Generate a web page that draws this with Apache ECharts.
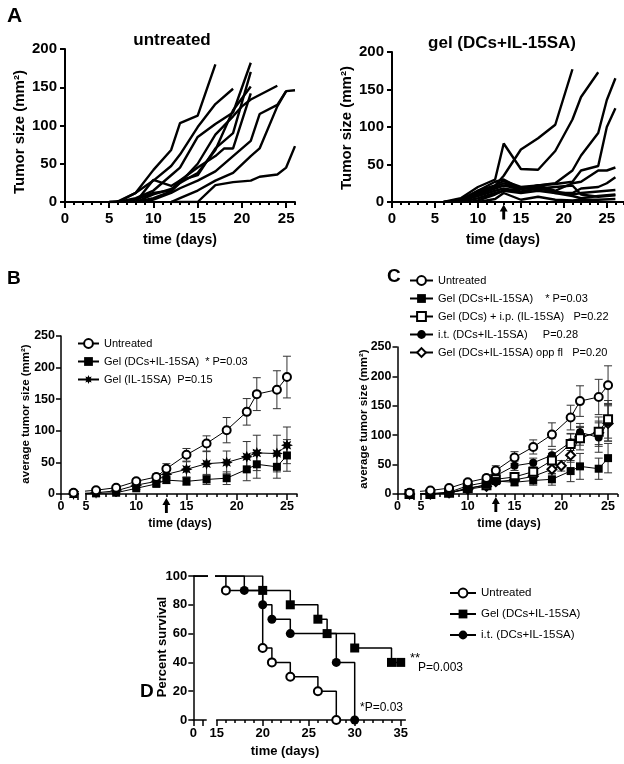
<!DOCTYPE html>
<html><head><meta charset="utf-8">
<script src="https://cdn.jsdelivr.net/npm/echarts@6/dist/echarts.min.js"></script>
<style>html,body{margin:0;padding:0;background:#fff}#c{width:624px;height:764px}</style>
</head><body><div id="c"></div>
<script>
// ---------- DATA ----------
// Panel A: individual tumour curves [day, size]
const untreatedCurves = [
  [[5,0],[6,0],[8,12],[10,42],[12,68],[13,103],[15,113],[17,180]],
  [[5,0],[6,1],[8,12],[10,28],[12,47],[13,62],[15,98],[17,128],[19,148]],
  [[6,0],[8,5],[10,15],[12,35],[13,45],[15,85],[17,102],[19,117],[21,182]],
  [[7,0],[8,3],[10,12],[12,15],[13,28],[15,35],[17,70],[19,90],[21,170]],
  [[8,0],[10,5],[12,14],[13,25],[15,38],[17,68],[19,120],[21,151]],
  [[8,0],[10,29],[12,21],[13,28],[15,45],[17,60],[18,70],[19,70],[21,142]],
  [[9,0],[10,3],[12,12],[13,18],[15,28],[17,40],[19,60],[21,80],[22,115],[24,127],[25,145],[26,146]],
  [[12,0],[13,5],[15,15],[17,28],[19,38],[21,60],[22,70],[24,125],[25,145]],
  [[8,0],[10,10],[12,17],[13,25],[15,50],[17,88],[19,112],[20,125],[21,134],[24,152]],
  [[12,0],[15,0],[17,22],[19,26],[21,28],[22,33],[24,36],[25,45],[26,73]]
];
const gelCurves = [
  [[6,0],[8,2],[10,12],[12,22],[13,35],[15,70],[17,85],[19,103],[21,177]],
  [[6,0],[8,5],[10,20],[12,30],[13,78],[15,44],[17,43],[19,68],[21,110],[22,140],[24,173]],
  [[6,0],[8,3],[10,15],[12,27],[13,30],[15,18],[17,22],[19,25],[21,42],[22,62],[24,92],[25,136],[26,165]],
  [[7,0],[8,2],[10,10],[12,18],[13,22],[15,17],[17,22],[19,24],[21,27],[22,42],[24,48],[25,100],[26,125]],
  [[7,0],[8,3],[10,15],[12,22],[13,28],[15,20],[17,22],[19,15],[21,25],[22,27],[24,42],[25,42],[26,46]],
  [[7,0],[8,2],[10,12],[12,20],[13,25],[15,18],[17,20],[19,12],[21,12],[22,18],[24,20],[25,25],[26,33]],
  [[7,0],[9,5],[10,8],[12,15],[13,18],[15,14],[17,18],[19,14],[21,10],[22,12],[24,14],[26,16]],
  [[8,0],[10,5],[12,12],[13,15],[15,12],[17,15],[19,12],[21,8],[22,5],[24,8],[26,10]],
  [[10,0],[12,4],[13,12],[15,3],[17,7],[19,3],[21,2],[22,3],[24,3],[26,4]],
  [[9,0],[10,2],[12,10],[13,15],[15,18],[17,18],[19,20],[21,22],[22,10],[24,7],[26,9]]
];

// Panels B & C: mean tumour size with SEM
const days = [3,6,8,10,12,13,15,17,19,21,22,24,25];
const untreatedMean = [2,6,10,20,27,40,62,80,101,130,158,165,185];
const untreatedSem  = [1,2,3,4,5,8,10,12,20,21,26,30,33];
const gelDCsILMean  = [0,1,2,9,16,22,20,23,25,39,47,43,61];
const gelDCsILSem   = [0,1,1,2,4,5,6,8,10,18,22,18,25];
const gelILMean     = [0,2,5,14,20,31,39,48,50,59,65,64,77];
const gelILSem      = [0,1,2,3,4,9,12,19,18,24,28,29,29];
const gelDCsIpMean  = [0,0,2,10,15,25,29,38,57,85,95,106,127];
const gelDCsIpSem   = [0,0,1,2,3,5,7,8,12,18,20,25,32];
const itDCsILMean   = [0,0,3,14,20,31,48,53,66,88,105,96,122];
const itDCsILSem    = [0,0,1,2,3,5,8,8,10,14,15,25,32];
const daysOpp       = [3,6,8,10,12,13,15,17,19,20,21,22,24,25];
const oppMean       = [0,0,2,8,13,21,24,30,42,48,66,98,104,120];
const oppSem        = [0,0,1,2,3,4,5,6,8,9,12,15,20,30];
const treatDay = 13;

// Panel D: Kaplan-Meier survival
const survUntreatedT = [0,16,20,21,23,26,28];
const survUntreatedP = [100,90,50,40,30,20,0];
const survGelT = [0,20,23,26,27,30,34,35];
const survGelP = [100,90,80,70,60,50,40,40];
const survItT  = [0,18,20,21,23,28,30];
const survItP  = [100,90,80,70,60,40,0];

// ---------- LAYOUT ----------
const FONT = "'Liberation Sans', Arial, Helvetica, sans-serif";
const range = (a,b,s=1)=>{const r=[];for(let v=a;v<=b+1e-9;v+=s)r.push(+v.toFixed(4));return r;};

const grids = [
  {left:65, top:49, width:230, height:153, xmin:0, xmax:26, major:range(0,25,5), labels:range(0,25,5), minor:range(0,26), ymax:200, yint:50, lw:2, fs:15, xm:9, ym:8, showY:true},
  {left:392, top:52, width:232, height:150, xmin:0, xmax:27, major:range(0,25,5), labels:range(0,25,5), minor:range(0,27), ymax:200, yint:50, lw:2, fs:15, xm:9, ym:8, showY:true},
  {left:61, top:336, width:16.7, height:158, xmin:0, xmax:4, major:[0,4], labels:[0], minor:[], ymax:250, yint:50, lw:1.5, fs:12.5, xm:6, ym:6, showY:true},
  {left:86, top:336, width:211, height:158, xmin:5, xmax:26, major:range(5,25,5), labels:range(5,25,5), minor:range(5,26), ymax:250, yint:50, lw:1.5, fs:12.5, xm:6, ym:6, showY:false},
  {left:397.5, top:347, width:16, height:147, xmin:0, xmax:4, major:[0,4], labels:[0], minor:[], ymax:250, yint:50, lw:1.5, fs:12.5, xm:6, ym:6, showY:true},
  {left:421, top:347, width:196.4, height:147, xmin:5, xmax:26, major:range(5,25,5), labels:range(5,25,5), minor:range(5,26), ymax:250, yint:50, lw:1.5, fs:12.5, xm:6, ym:6, showY:false},
  {left:193.3, top:576, width:12.9, height:144, xmin:0, xmax:1.4, major:[0,1], labels:[0], minor:[], ymax:100, yint:20, lw:1.5, fs:13, xm:7, ym:6, showY:true},
  {left:216.7, top:576, width:188.6, height:144, xmin:15, xmax:35.5, major:range(15,35,5), labels:range(15,35,5), minor:range(15,35), ymax:100, yint:20, lw:1.5, fs:13, xm:7, ym:6, showY:false}
];

const gridOpt = [], xAxes = [], yAxes = [];
grids.forEach((g,i)=>{
  gridOpt.push({left:g.left, top:g.top, width:g.width, height:g.height, containLabel:false, outerBoundsMode:'none'});
  xAxes.push({type:'value', gridIndex:i, min:g.xmin, max:g.xmax, position:'bottom',
    axisLine:{show:true, onZero:false, lineStyle:{color:'#000', width:g.lw}},
    axisTick:{show:true, customValues:g.major, length:6, lineStyle:{color:'#000', width:g.lw}},
    axisLabel:{show:true, customValues:g.labels, color:'#000', fontWeight:'bold', fontSize:g.fs, fontFamily:FONT, margin:g.xm},
    splitLine:{show:false}});
  xAxes.push({type:'value', gridIndex:i, min:g.xmin, max:g.xmax, position:'bottom',
    axisLine:{show:false},
    axisTick:{show:g.minor.length>0, customValues:g.minor.length?g.minor:[g.xmin], length:3, lineStyle:{color:'#000', width:g.lw}},
    axisLabel:{show:false}, splitLine:{show:false}});
  yAxes.push({type:'value', gridIndex:i, min:0, max:g.ymax, interval:g.yint, show:g.showY,
    axisLine:{show:true, onZero:false, lineStyle:{color:'#000', width:g.lw}},
    axisTick:{show:true, length:5, lineStyle:{color:'#000', width:g.lw}},
    axisLabel:{color:'#000', fontWeight:'bold', fontSize:g.fs, fontFamily:FONT, margin:g.ym},
    splitLine:{show:false}});
});

const series = [];
const X = i=>2*i;

untreatedCurves.forEach((c,k)=>series.push({type:'line', name:'Au'+k, xAxisIndex:X(0), yAxisIndex:0, data:c, symbol:'none', lineStyle:{color:'#000', width:2.4}, silent:true, clip:true}));
gelCurves.forEach((c,k)=>series.push({type:'line', name:'Ag'+k, xAxisIndex:X(1), yAxisIndex:1, data:c, symbol:'none', lineStyle:{color:'#000', width:2.4}, silent:true, clip:true}));

const STAR = 'path://M10 0 L12.1 5.0 L17.07 2.93 L15.0 7.9 L20 10 L15.0 12.1 L17.07 17.07 L12.1 15.0 L10 20 L7.9 15.0 L2.93 17.07 L5.0 12.1 L0 10 L5.0 7.9 L2.93 2.93 L7.9 5.0 Z';
const ARROW = 'path://M5 0 L10 7 L6.8 7 L6.8 15 L3.2 15 L3.2 7 L0 7 Z';

function errSeries(gi, xs, ys, es){
  const g = grids[gi];
  const data = [];
  xs.forEach((x,i)=>{ if(es[i]>0 && x>=g.xmin && x<=g.xmax) data.push([x, Math.max(0,ys[i]-es[i]), ys[i]+es[i]]); });
  return {type:'custom', xAxisIndex:X(gi), yAxisIndex:gi, silent:true, z:1, data:data,
    encode:{x:0, y:[1,2]},
    renderItem:function(params, api){
      const x=api.value(0), lo=api.value(1), hi=api.value(2);
      const p1=api.coord([x,hi]), p2=api.coord([x,lo]);
      const w=4, st={stroke:'#333', lineWidth:1};
      return {type:'group', children:[
        {type:'line', shape:{x1:p1[0],y1:p1[1],x2:p2[0],y2:p2[1]}, style:st},
        {type:'line', shape:{x1:p1[0]-w,y1:p1[1],x2:p1[0]+w,y2:p1[1]}, style:st},
        {type:'line', shape:{x1:p2[0]-w,y1:p2[1],x2:p2[0]+w,y2:p2[1]}, style:st}
      ]};
    }};
}
function meanSeries(name, gi, xs, ys, sym, size, filled){
  return {type:'line', name:name, xAxisIndex:X(gi), yAxisIndex:gi, z:3,
    data:xs.map((x,i)=>[x,ys[i]]), symbol:sym, symbolSize:size, showAllSymbol:true, clip:true,
    lineStyle:{color:'#000', width:1}, itemStyle:{color:'#000', borderColor:'#000', borderWidth:filled?0:1.5},
    emphasis:{disabled:true}, silent:true};
}
function arrowSeries(gi, off){
  return {type:'scatter', xAxisIndex:X(gi), yAxisIndex:gi, data:[[treatDay,0]], symbol:ARROW, symbolSize:[8,15], symbolOffset:[0,off], itemStyle:{color:'#000', opacity:1}, clip:false, silent:true, z:5};
}

[2,3].forEach(gi=>{
  const p = gi===3 ? 'B-' : 'B1-';
  series.push(errSeries(gi, days, untreatedMean, untreatedSem));
  series.push(errSeries(gi, days, gelDCsILMean, gelDCsILSem));
  series.push(errSeries(gi, days, gelILMean, gelILSem));
  series.push(meanSeries(p+'gelIL', gi, days, gelILMean, STAR, 12, true));
  series.push(meanSeries(p+'gelDCsIL', gi, days, gelDCsILMean, 'rect', 8, true));
  series.push(meanSeries(p+'untreated', gi, days, untreatedMean, 'emptyCircle', 8, false));
});
series.push(arrowSeries(3, 11.5));
series.push(arrowSeries(1, 10));

[4,5].forEach(gi=>{
  const p = gi===5 ? 'C-' : 'C1-';
  series.push(errSeries(gi, days, untreatedMean, untreatedSem));
  series.push(errSeries(gi, days, gelDCsILMean, gelDCsILSem));
  series.push(errSeries(gi, days, gelDCsIpMean, gelDCsIpSem));
  series.push(errSeries(gi, days, itDCsILMean, itDCsILSem));
  series.push(errSeries(gi, daysOpp, oppMean, oppSem));
  series.push(meanSeries(p+'opp', gi, daysOpp, oppMean, 'emptyDiamond', 9, false));
  series.push(meanSeries(p+'it', gi, days, itDCsILMean, 'circle', 8, true));
  series.push(meanSeries(p+'ip', gi, days, gelDCsIpMean, 'emptyRect', 8, false));
  series.push(meanSeries(p+'gelDCsIL', gi, days, gelDCsILMean, 'rect', 8, true));
  series.push(meanSeries(p+'untreated', gi, days, untreatedMean, 'emptyCircle', 8, false));
});
series.push(arrowSeries(5, 10.5));

function survSeries(name, gi, ts, ps, sym, size, filled){
  return {type:'line', name:name, xAxisIndex:X(gi), yAxisIndex:gi, step:'end', clip:true, showAllSymbol:true,
    data:ts.map((t,i)=> i===0 ? {value:[t,ps[i]], symbol:'none'} : [t,ps[i]]),
    symbol:sym, symbolSize:size, lineStyle:{color:'#000', width:1.5},
    itemStyle:{color:'#000', borderColor:'#000', borderWidth:filled?0:1.5}, emphasis:{disabled:true}, silent:true, z:3};
}
[6,7].forEach(gi=>{
  const p = gi===7 ? 'D-' : 'D1-';
  series.push(survSeries(p+'gel', gi, survGelT, survGelP, 'rect', 9, true));
  series.push(survSeries(p+'it', gi, survItT, survItP, 'circle', 9, true));
  series.push(survSeries(p+'untreated', gi, survUntreatedT, survUntreatedP, 'emptyCircle', 8, false));
});

const legendText = {
  'B-untreated':'Untreated',
  'B-gelDCsIL':'Gel (DCs+IL-15SA)  * P=0.03',
  'B-gelIL':'Gel (IL-15SA)  P=0.15',
  'C-untreated':'Untreated',
  'C-gelDCsIL':'Gel (DCs+IL-15SA)    * P=0.03',
  'C-ip':'Gel (DCs) + i.p. (IL-15SA)   P=0.22',
  'C-it':'i.t. (DCs+IL-15SA)     P=0.28',
  'C-opp':'Gel (DCs+IL-15SA) opp fl   P=0.20',
  'D-untreated':'Untreated',
  'D-gel':'Gel (DCs+IL-15SA)',
  'D-it':'i.t. (DCs+IL-15SA)'
};
function legend(names, left, top, iw, gap, fs){
  return {show:true, orient:'vertical', left:left, top:top, itemWidth:iw, itemHeight:11, itemGap:gap, padding:0,
    selectedMode:false, data:names, formatter:n=>legendText[n],
    textStyle:{color:'#000', fontSize:fs, fontFamily:FONT}};
}

const T = (text, x, y, size, weight, align, rot)=>({type:'text', x:x, y:y, rotation:rot||0, silent:true,
  style:{text:text, x:0, y:0, font:(weight||'normal')+' '+size+'px '+FONT, fill:'#000', textAlign:align||'center', textVerticalAlign:'middle'}});

const graphics = [
  T('A', 7, 16, 21, 'bold', 'left'),
  T('B', 7, 279, 19, 'bold', 'left'),
  T('C', 387, 277, 19, 'bold', 'left'),
  T('D', 140, 692, 19, 'bold', 'left'),
  T('untreated', 172, 40, 17, 'bold'),
  T('gel (DCs+IL-15SA)', 502, 43, 17, 'bold'),
  T('Tumor size (mm²)', 20, 132, 15, 'bold', 'center', Math.PI/2),
  T('Tumor size (mm²)', 347, 128, 15, 'bold', 'center', Math.PI/2),
  T('time (days)', 180, 240, 14, 'bold'),
  T('time (days)', 503, 240, 14, 'bold'),
  T('average tumor size (mm²)', 26, 414, 11.5, 'bold', 'center', Math.PI/2),
  T('average tumor size (mm²)', 364, 419, 11.5, 'bold', 'center', Math.PI/2),
  T('time (days)', 180, 524, 12, 'bold'),
  T('time (days)', 509, 524, 12, 'bold'),
  T('Percent survival', 162, 647, 13, 'bold', 'center', Math.PI/2),
  T('time (days)', 285, 751, 13, 'bold'),
  T('**', 410, 658, 13, 'normal', 'left'),
  T('P=0.003', 418, 668, 12, 'normal', 'left'),
  T('*P=0.03', 360, 708, 12, 'normal', 'left')
];

const chart = echarts.init(document.getElementById('c'), null, {renderer:'canvas'});
chart.setOption({
  animation:false,
  backgroundColor:'#fff',
  textStyle:{fontFamily:FONT},
  grid:gridOpt, xAxis:xAxes, yAxis:yAxes, series:series,
  legend:[
    legend(['B-untreated','B-gelDCsIL','B-gelIL'], 77, 338, 21, 7, 11),
    legend(['C-untreated','C-gelDCsIL','C-ip','C-it','C-opp'], 409, 275, 23, 7, 11),
    legend(['D-untreated','D-gel','D-it'], 449, 587, 26, 9, 11.5)
  ],
  graphic:graphics
});
</script></body></html>
